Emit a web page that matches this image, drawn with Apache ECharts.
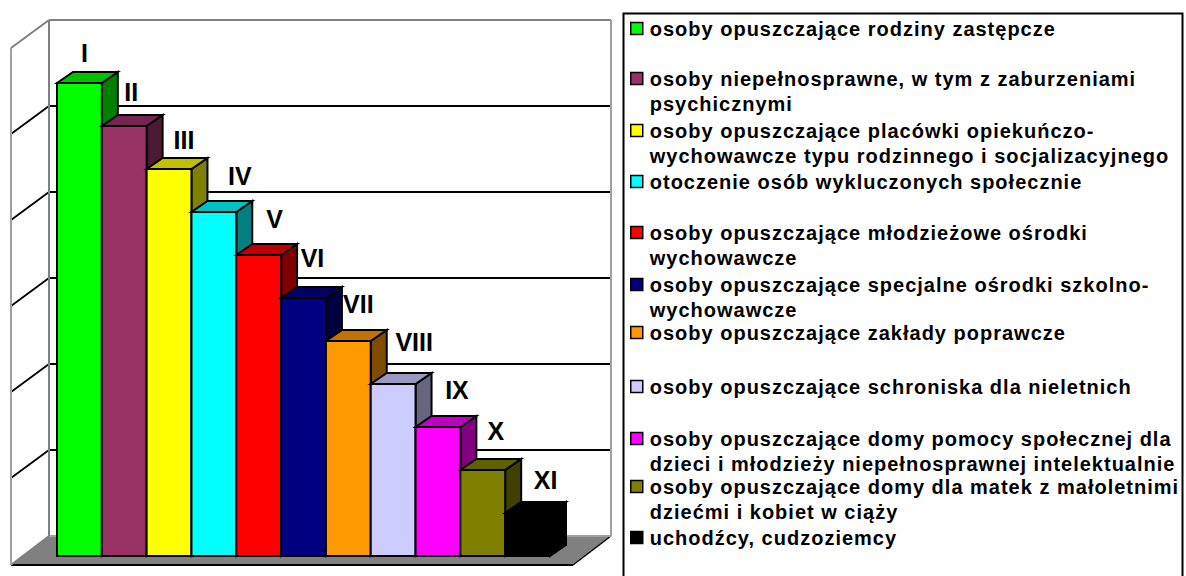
<!DOCTYPE html>
<html>
<head>
<meta charset="utf-8">
<style>
html,body{margin:0;background:#fff}
#chart{width:1186px;height:576px}
#chart text[style*="20px"]{letter-spacing:1px}
</style>
<script src="https://cdn.jsdelivr.net/npm/echarts@6/dist/echarts.min.js"></script>
</head>
<body>
<div id="chart"></div>
<script>
var names = [
	'osoby opuszczające rodziny zastępcze',
	'osoby niepełnosprawne, w tym z zaburzeniami\npsychicznymi',
	'osoby opuszczające placówki opiekuńczo-\nwychowawcze typu rodzinnego i socjalizacyjnego',
	'otoczenie osób wykluczonych społecznie',
	'osoby opuszczające młodzieżowe ośrodki\nwychowawcze',
	'osoby opuszczające specjalne ośrodki szkolno-\nwychowawcze',
	'osoby opuszczające zakłady poprawcze',
	'osoby opuszczające schroniska dla nieletnich',
	'osoby opuszczające domy pomocy społecznej dla\ndzieci i młodzieży niepełnosprawnej intelektualnie',
	'osoby opuszczające domy dla matek z małoletnimi\ndziećmi i kobiet w ciąży',
	'uchodźcy, cudzoziemcy'
];
var categories = ['I','II','III','IV','V','VI','VII','VIII','IX','X','XI'];
var values = [11,10,9,8,7,6,5,4,3,2,1];
var yTicks = [0,2,4,6,8,10,12];

var frontColors = ['#00ff00','#993366','#ffff00','#00ffff','#ff0000','#000080','#ff9900','#ccccff','#ff00ff','#808000','#000000'];
var topColors = ['#00c000','#732650','#c0c000','#00c0c0','#c00000','#000060','#c07300','#9999c0','#c000c0','#606000','#000000'];
var sideColors = ['#008000','#4d1a33','#808000','#008080','#800000','#000040','#804d00','#666680','#800080','#404000','#000000'];

// label nudges from the top of the bar, the original labels were dragged by hand
var labelDx = [5,7,15,26,16,9,10,21,19,13,18];
var labelDy = [-30,-34,-29,-36,-36,-40,-37,-42,-37,-39,-33];
var legendTops = [16,66,118,169,220,272,320,374,426,474,525];

var depthX = 16, depthY = -11;
var fontFamily = '"Liberation Sans", Arial, sans-serif';

function renderBar(idx){
	return function(params, api){
		var base = api.coord([idx, 0]);
		var top = api.coord([idx, api.value(1)]);
		var w = api.size([1, 0])[0];
		var l = base[0] - w/2, r = base[0] + w/2;
		var st = {stroke:'#000', lineWidth:2, lineJoin:'miter'};
		return {type:'group', children:[
			{type:'polygon', shape:{points:[[r,base[1]],[r+depthX,base[1]+depthY],[r+depthX,top[1]+depthY],[r,top[1]]]},
				style:Object.assign({fill:sideColors[idx]}, st)},
			{type:'polygon', shape:{points:[[l,top[1]],[l+depthX,top[1]+depthY],[r+depthX,top[1]+depthY],[r,top[1]]]},
				style:Object.assign({fill:topColors[idx]}, st)},
			{type:'rect', shape:{x:l,y:top[1],width:w,height:base[1]-top[1]},
				style:Object.assign({fill:frontColors[idx]}, st)},
			{type:'text', x:base[0]+labelDx[idx], y:top[1]+labelDy[idx], style:{
				text:categories[idx], fill:'#000', align:'center', verticalAlign:'middle',
				font:'bold 25px ' + fontFamily}}
		]};
	};
}

// walls and floor hang off the front plane of the bars
function renderFrame(params, api){
	var v = api.value(0);
	var a = api.coord([0, v]);
	var z = api.coord([categories.length-1, v]);
	var w = api.size([1, 0])[0];
	var o = api.coord([0, 0]);
	var x0 = a[0]-w/2, x1 = z[0]+w/2;
	var backL = x0-8, backR = x1+61, backY = a[1]-20;
	var wallL = x0-46, wallY = a[1]+8;
	var grey = '#808080';
	var kids = [];
	if(v === 0){
		kids.push({type:'polygon', shape:{points:[[x0-46,o[1]+9],[backL,o[1]-20],[backR,o[1]-20],[x1+23,o[1]+9]]},
			style:{fill:grey, stroke:'#000', lineWidth:0}});
		kids.push({type:'line', shape:{x1:x0-46,y1:o[1]+9,x2:x1+23,y2:o[1]+9}, style:{stroke:'#000',lineWidth:2}});
		kids.push({type:'line', shape:{x1:x1+23,y1:o[1]+9,x2:backR,y2:o[1]-20}, style:{stroke:'#000',lineWidth:1.4}});
		kids.push({type:'line', shape:{x1:x0-46,y1:o[1]+9,x2:backL,y2:o[1]-20}, style:{stroke:grey,lineWidth:2}});
		kids.push({type:'line', shape:{x1:backL,y1:o[1]-20,x2:backR,y2:o[1]-20}, style:{stroke:'#a0a0a0',lineWidth:2}});
	} else if(v === yTicks[yTicks.length-1]){
		kids.push({type:'line', shape:{x1:backL,y1:backY,x2:backR,y2:backY}, style:{stroke:grey,lineWidth:2}});
		kids.push({type:'line', shape:{x1:wallL,y1:wallY,x2:backL,y2:backY}, style:{stroke:grey,lineWidth:2}});
		kids.push({type:'line', shape:{x1:backL,y1:backY,x2:backL,y2:o[1]-20}, style:{stroke:grey,lineWidth:2}});
		kids.push({type:'line', shape:{x1:backR,y1:backY,x2:backR,y2:o[1]-20}, style:{stroke:'#a0a0a0',lineWidth:2}});
		kids.push({type:'line', shape:{x1:wallL,y1:wallY,x2:wallL,y2:o[1]+9}, style:{stroke:'#a0a0a0',lineWidth:2}});
	} else {
		kids.push({type:'line', shape:{x1:backL,y1:backY,x2:backR,y2:backY}, style:{stroke:'#000',lineWidth:1.8}});
		kids.push({type:'line', shape:{x1:wallL,y1:wallY,x2:backL,y2:backY}, style:{stroke:'#000',lineWidth:1.8}});
	}
	return {type:'group', children:kids};
}

var series = [{
	type:'custom', name:'frame', silent:true, z:1,
	coordinateSystem:'cartesian2d',
	data:yTicks.map(function(t){return [t];}),
	encode:{x:-1, y:0},
	renderItem:renderFrame
}];
categories.forEach(function(c, i){
	series.push({
		type:'custom', name:names[i], z:2+i,
		coordinateSystem:'cartesian2d',
		itemStyle:{color:frontColors[i]},
		data:[[c, values[i]]],
		encode:{x:0, y:1},
		renderItem:renderBar(i)
	});
});

var myChart = echarts.init(document.getElementById('chart'), null, {renderer:'svg'});
myChart.setOption({
	animation:false,
	backgroundColor:'#fff',
	grid:{left:57, width:493, top:40, height:516},
	xAxis:{type:'category', data:categories, show:false},
	yAxis:{type:'value', min:0, max:12, interval:2, show:false},
	graphic:[{
		type:'rect', z:0, shape:{x:623.5,y:13.5,width:559,height:570},
		style:{fill:'#fff', stroke:'#000', lineWidth:2}
	}],
	legend:names.map(function(n, i){
		// two line names: icon sits on the first line, so the path is padded downwards
		var twoLines = n.indexOf('\n') >= 0;
		return {
			data:[{name:n, icon:twoLines ? 'path://M0,0H12V12H0Z M0,37' : 'rect'}],
			left:630, top:legendTops[i], orient:'vertical', padding:0,
			itemWidth:12, itemHeight:twoLines ? 37 : 12, itemGap:0, selectedMode:false,
			itemStyle:{borderColor:'#000', borderWidth:1.5},
			textStyle:{fontWeight:'bold', fontSize:20, fontFamily:fontFamily, color:'#000', lineHeight:25, padding:[0,0,0,2]}
		};
	}),
	series:series
});
</script>
</body>
</html>
